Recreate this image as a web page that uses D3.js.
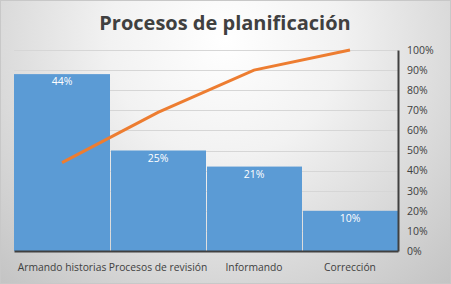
<!DOCTYPE html>
<html>
<head>
<meta charset="utf-8">
<script src="https://cdn.jsdelivr.net/npm/d3@7"></script>
<style>
  html, body { margin: 0; padding: 0; background: #fff; }
  svg { display: block; }
</style>
</head>
<body>
<div id="chart"></div>
<script>
const categories = ["Armando historias", "Procesos de revisión", "Informando", "Corrección"];
const shares = [44, 25, 21, 10];
const cumulative = [44, 69, 90, 100];
const pctTicks = [0, 10, 20, 30, 40, 50, 60, 70, 80, 90, 100];

const W = 451, H = 284;
const margin = { top: 50, right: 53, bottom: 33, left: 14 };
const width = W - margin.left - margin.right;
const height = H - margin.top - margin.bottom;

const root = d3.select("#chart").append("svg")
    .attr("width", W)
    .attr("height", H);

const defs = root.append("defs");
const grad = defs.append("radialGradient")
    .attr("id", "bg")
    .attr("gradientUnits", "userSpaceOnUse")
    .attr("cx", 225).attr("cy", 40).attr("r", 330);
grad.append("stop").attr("offset", "0%").attr("stop-color", "#ffffff");
grad.append("stop").attr("offset", "35%").attr("stop-color", "#f2f2f2");
grad.append("stop").attr("offset", "100%").attr("stop-color", "#c4c4c4");

root.append("rect")
    .attr("x", 0.5).attr("y", 0.5)
    .attr("width", W - 1).attr("height", H - 1)
    .attr("fill", "url(#bg)")
    .attr("stroke", "#c8c8c8");

root.append("text")
    .attr("x", 225)
    .attr("y", 30)
    .attr("text-anchor", "middle")
    .style("font-family", "'Open Sans', sans-serif")
    .style("font-weight", "bold")
    .style("font-size", "20px")
    .attr("fill", "#404040")
    .text("Procesos de planificación");

const svg = root.append("g")
    .attr("transform", `translate(${margin.left},${margin.top})`);

const x = d3.scaleBand()
    .domain(categories)
    .range([0, width])
    .padding(0);

// bars sit on a hidden 0-50 primary axis, the line on the 0-100% secondary one
const yBar = d3.scaleLinear().domain([0, 50]).range([height, 0]);
const yPct = d3.scaleLinear().domain([0, 100]).range([height, 0]);

svg.append("g")
    .selectAll("line")
    .data(pctTicks.slice(1))
    .join("line")
    .attr("x1", 0)
    .attr("x2", width)
    .attr("y1", d => Math.round(yPct(d)) + 0.5)
    .attr("y2", d => Math.round(yPct(d)) + 0.5)
    .attr("stroke", "#d6d6d6")
    .attr("stroke-width", 1);

svg.append("g")
    .selectAll("rect")
    .data(shares)
    .join("rect")
    .attr("x", (d, i) => x(categories[i]) + (i > 0 ? 1 : 0))
    .attr("y", d => yBar(d))
    .attr("width", (d, i) => x.bandwidth() - (i > 0 ? 1 : 0))
    .attr("height", d => height - yBar(d))
    .attr("fill", "#5b9bd5");

svg.append("g")
    .selectAll("text")
    .data(shares)
    .join("text")
    .attr("x", (d, i) => x(categories[i]) + x.bandwidth() / 2)
    .attr("y", d => yBar(d) + 11)
    .attr("text-anchor", "middle")
    .style("font-family", "'Open Sans', sans-serif")
    .style("font-size", "10.5px")
    .attr("fill", "#ffffff")
    .text(d => d + "%");

const line = d3.line()
    .x((d, i) => x(categories[i]) + x.bandwidth() / 2)
    .y(d => yPct(d));

svg.append("path")
    .datum(cumulative)
    .attr("fill", "none")
    .attr("stroke", "#ed7d31")
    .attr("stroke-width", 3)
    .attr("d", line);

const xAxis = svg.append("g")
    .attr("transform", `translate(0,${height})`)
    .call(d3.axisBottom(x).tickSize(0).tickPadding(13));
xAxis.select(".domain").attr("stroke", "#404040").attr("stroke-width", 2);
xAxis.selectAll("text")
    .style("font-family", "'Open Sans', sans-serif")
    .style("font-size", "10.3px")
    .attr("fill", "#404040");

const yAxis = svg.append("g")
    .attr("transform", `translate(${width},0)`)
    .call(d3.axisRight(yPct).tickValues(pctTicks).tickFormat(d => d + "%").tickSize(0).tickPadding(9));
yAxis.select(".domain").attr("stroke", "#404040").attr("stroke-width", 2);
yAxis.selectAll("text")
    .style("font-family", "'Open Sans', sans-serif")
    .style("font-size", "10.5px")
    .attr("fill", "#404040");
</script>
</body>
</html>
